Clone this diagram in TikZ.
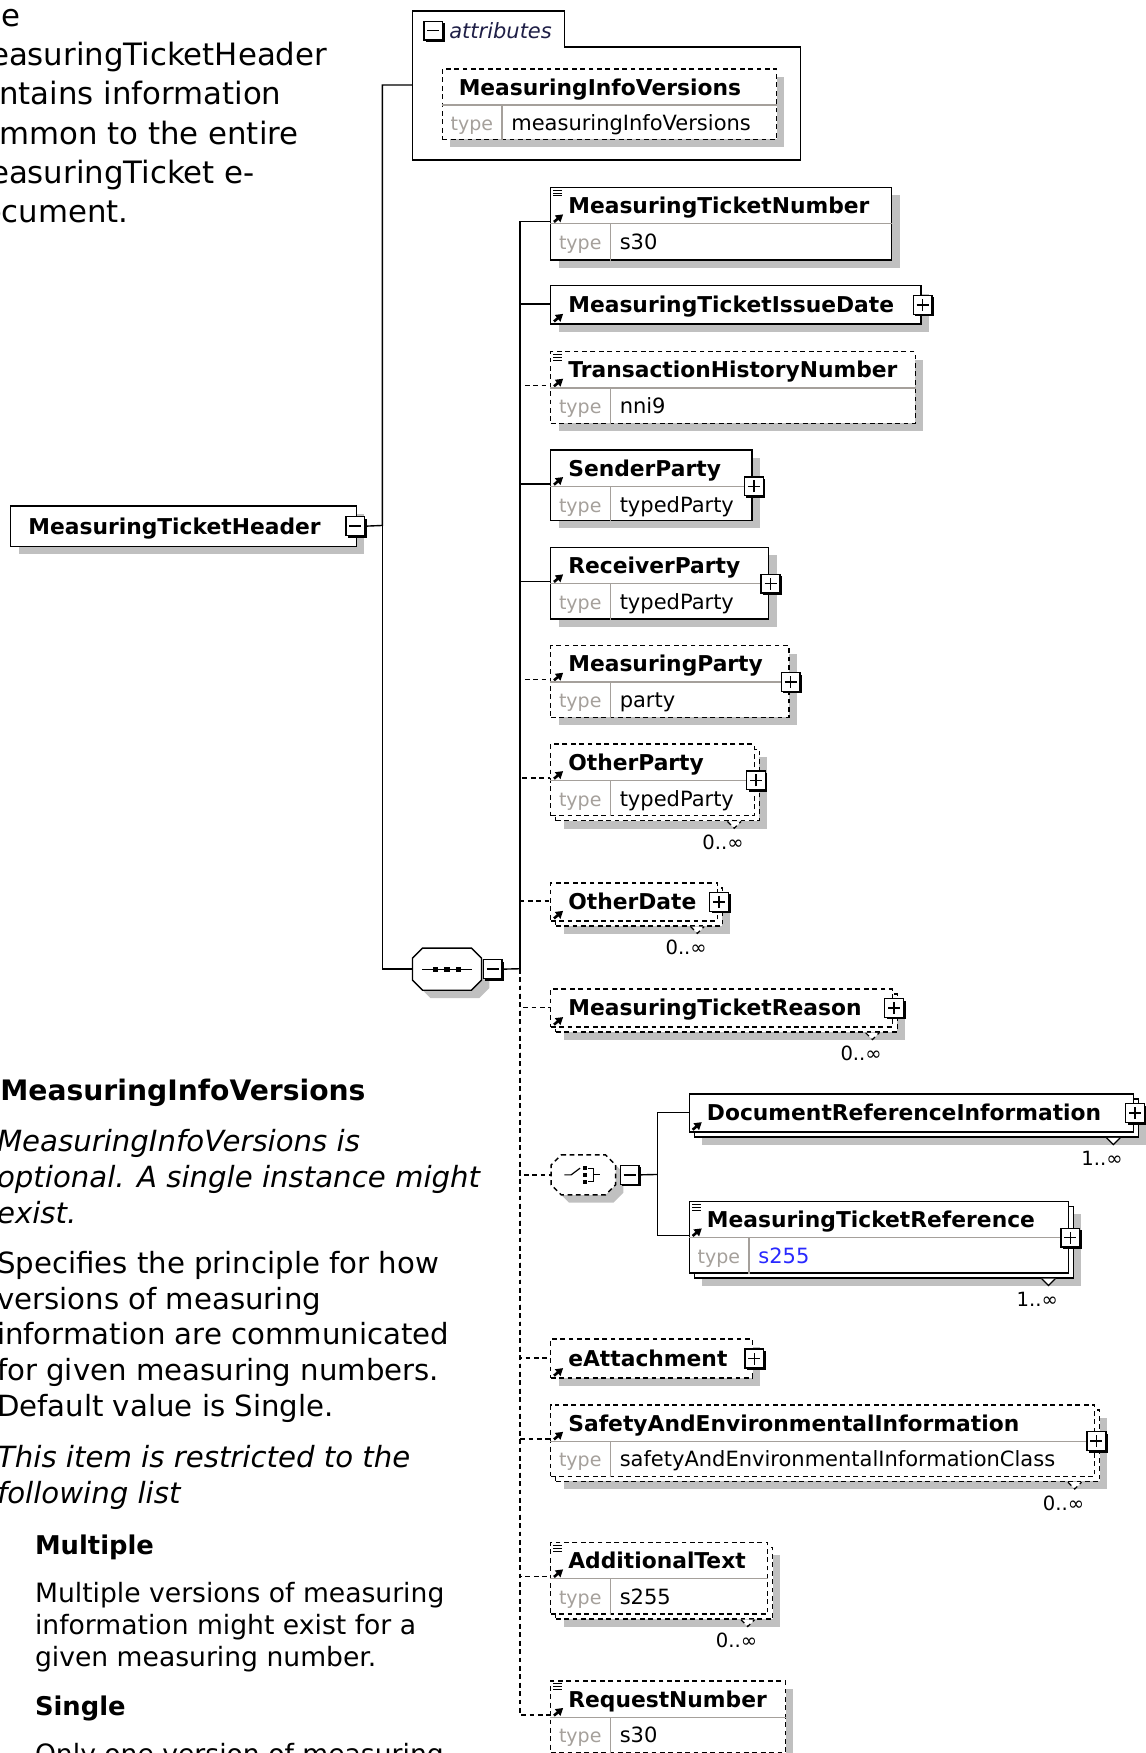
\documentclass[tikz,border=0pt]{standalone}
\usepackage{fontspec}
\setmainfont{DejaVu Sans}
\usetikzlibrary{arrows.meta, positioning, shadows}

\definecolor{typegray}{RGB}{165,160,155}
\definecolor{shadegray}{RGB}{192,192,192}
\definecolor{refblue}{RGB}{40,40,255}
\definecolor{attrnavy}{RGB}{30,30,70}

% one pixel of the drawing
\newcommand{\dpx}{0.559pt}
\newcommand{\namefont}{\fontsize{10.9}{13}\selectfont}

\tikzset{
  box/.style={draw, fill=white, line width=0.7pt, anchor=north west, inner sep=0pt},
  optional/.style={dash pattern=on 2.4pt off 1.8pt},
  shadowed/.style={drop shadow={shadow xshift=3.9pt, shadow yshift=-3.9pt, fill=shadegray, opacity=1}},
  ename/.style={anchor=base west, inner sep=0pt, font=\namefont\bfseries},
  tname/.style={anchor=base west, inner sep=0pt, font=\fontsize{10.5}{12}\selectfont},
  tkey/.style={anchor=base, inner sep=0pt, font=\fontsize{9.5}{11}\selectfont, text=typegray},
  multi/.style={inner sep=0pt, font=\fontsize{9.8}{11}\selectfont},
  link/.style={line width=0.7pt},
  rule/.style={draw=typegray, line width=0.6pt},
  pm/.style={draw, fill=white, line width=0.7pt, minimum size=9.4pt, inner sep=0pt,
    drop shadow={shadow xshift=1pt, shadow yshift=-1pt, fill=black, opacity=1}},
  minusbox/.style={pm, path picture={\draw[line width=0.7pt]
    ([xshift=-3pt]path picture bounding box.center) -- ([xshift=3pt]path picture bounding box.center);}},
  plusbox/.style={pm, path picture={\draw[line width=0.7pt]
    ([xshift=-3pt]path picture bounding box.center) -- ([xshift=3pt]path picture bounding box.center)
    ([yshift=-3pt]path picture bounding box.center) -- ([yshift=3pt]path picture bounding box.center);}},
  attrlabel/.style={inner sep=0pt, text=attrnavy, font=\fontsize{10.5}{12}\selectfont\itshape},
  % multi-line texts are placed by the baseline of their last line
  desctop/.style={anchor=base west, align=left, inner sep=0pt, font=\fontsize{15.4}{19.6}\selectfont},
  descbody/.style={anchor=base west, align=left, inner sep=0pt, font=\fontsize{14.6}{17.9}\selectfont},
  descital/.style={descbody, font=\fontsize{14.6}{17.9}\selectfont\itshape},
  deschead/.style={anchor=base west, inner sep=0pt, font=\fontsize{14.1}{17}\selectfont\bfseries},
  listhead/.style={deschead, font=\fontsize{12.9}{16}\selectfont\bfseries},
  listbody/.style={anchor=base west, align=left, inner sep=0pt, font=\fontsize{13.3}{16.2}\selectfont}
}

% element box: id, style, x, y, width, height, head height, name
\newcommand{\elem}[8]{%
  \node[box, #2, minimum width=#5*\dpx, minimum height=#6*\dpx] (#1) at (#3,#4) {};
  \node[ename] (#1-n) at ([xshift=16*\dpx, yshift=-(#7/2+7.5)*\dpx]#1.north west) {#8};
  \draw[line width=1.3pt, -{Triangle[length=3.6pt, width=4.2pt]}]
    ([xshift=3.5*\dpx, yshift=-(#7-1.5)*\dpx]#1.north west) -- ++(4.6pt,3.8pt);
  \coordinate (#1-in) at ([yshift=-#7/2*\dpx]#1.north west);
}
% type row of a box: id, type
\newcommand{\typ}[2]{%
  \draw[rule] ([yshift=-33*\dpx]#1.north west) -- ([yshift=-33*\dpx]#1.north east);
  \draw[rule] ([xshift=54*\dpx, yshift=-33*\dpx]#1.north west) -- ([xshift=54*\dpx]#1.south west);
  \node[tkey] (#1-k) at ([xshift=27*\dpx, yshift=-56*\dpx]#1.north west) {type};
  \node[tname] (#1-v) at ([xshift=62*\dpx, yshift=-56*\dpx]#1.north west) {#2};
  \coordinate (#1-in) at ([yshift=-31*\dpx]#1.north west);
}
% simple content mark
\newcommand{\simple}[1]{%
  \foreach \k in {1,2,3}
    \draw[line width=0.5pt] ([xshift=3*\dpx, yshift=-(0.5+2.6*\k)*\dpx]#1.north west) -- ++(4.3pt,0);
}
% box behind a repeated element: id, style, x, y, width, height
\newcommand{\stack}[6]{%
  \node[box, #2, shadowed, minimum width=#5*\dpx, minimum height=#6*\dpx] (#1-b) at (#3+4.5,#4+4.5) {};
}
% occurrence mark: id, style, text
\newcommand{\mult}[3]{%
  \draw[line width=0.6pt, fill=white, #2] ([xshift=-24.5*\dpx, yshift=-4.5*\dpx]#1.south east)
    -- ++(3.4pt,-3.4pt) -- ++(3.4pt,3.4pt);
  \node[multi] (#1-m) at ([xshift=-28.5*\dpx, yshift=-23*\dpx]#1.south east) {#3};
}
% compositor outline: id, style
\newcommand{\octa}[2]{%
  \draw[link, fill=white, shadowed, #2] ([xshift=9*\dpx]#1.north west) -- ([xshift=-9*\dpx]#1.north east)
    -- ([yshift=-9*\dpx]#1.north east) -- ([yshift=9*\dpx]#1.south east)
    -- ([xshift=-9*\dpx]#1.south east) -- ([xshift=9*\dpx]#1.south west)
    -- ([yshift=9*\dpx]#1.south west) -- ([yshift=-9*\dpx]#1.north west) -- cycle;
}

\begin{document}
\begin{tikzpicture}[x=0.559pt, y=-0.559pt]
\useasboundingbox (0,0) rectangle (1025,1568);

% documentation
\node[desctop] (intro) at (-33,199) {The\\MeasuringTicketHeader\\contains information\\common to the entire\\MeasuringTicket e-\\document.};
\node[deschead] (miv-h) at (0,984) {MeasuringInfoVersions};
\node[descital] (miv-o) at (-3,1094) {MeasuringInfoVersions is\\optional. A single instance might\\exist.};
\node[descbody] (miv-d) at (-3,1267) {Specifies the principle for how\\versions of measuring\\information are communicated\\for given measuring numbers.\\Default value is Single.};
\node[descital] (miv-r) at (-3,1345) {This item is restricted to the\\following list};
\node[listhead] (mul-h) at (31,1390) {Multiple};
\node[listbody] (mul-d) at (31,1491) {Multiple versions of measuring\\information might exist for a\\given measuring number.};
\node[listhead] (sin-h) at (31,1534) {Single};
\node[listbody] (sin-d) at (31,1577) {Only one version of measuring};

% attributes
\draw[link] (369,10) -- (505,10) -- (505,42) -- (716,42) -- (716,143) -- (369,143) -- cycle;
\coordinate (attr-in) at (369,76);
\node[minusbox] (attr-m) at (387.5,27.5) {};
\node[attrlabel, right=5*\dpx of attr-m] (attr-l) {attributes};
\node[box, optional, shadowed, minimum width=299*\dpx, minimum height=63*\dpx] (miv) at (395,61) {};
\node[ename] (miv-n) at ([xshift=15*\dpx, yshift=-24*\dpx]miv.north west) {MeasuringInfoVersions};
\typ{miv}{measuringInfoVersions}

% root
\node[box, shadowed, minimum width=309*\dpx, minimum height=36*\dpx] (mth) at (9,452) {};
\node[ename] (mth-n) at ([xshift=16*\dpx, yshift=-26*\dpx]mth.north west) {MeasuringTicketHeader};
\node[minusbox] (mth-m) at ([xshift=-1.5*\dpx]mth.east) {};
\coordinate (hbus) at (342,470);

% sequence
\node[inner sep=0pt, minimum width=61*\dpx, minimum height=37*\dpx, anchor=north west] (seq) at (369,848) {};
\octa{seq}{}
\begin{scope}[shift={(seq.center)}]
  \draw[line width=0.6pt] (-22,0) -- (22,0);
  \foreach \dx in {-10,0,10}
    \fill (\dx-2.3,-2.3) rectangle (\dx+2.3,2.3);
\end{scope}
\node[minusbox] (seq-m) at ([xshift=10*\dpx]seq.east) {};
\coordinate (sbus) at (465,866.5);

\draw[link] (mth-m.east) -- (hbus) |- (attr-in);
\draw[link] (hbus) |- (seq.west);
\draw[link] (seq-m.east) -- (sbus);

% children
\elem{mtn}{shadowed}{492}{167}{305}{65}{33}{MeasuringTicketNumber}
\typ{mtn}{s30}
\simple{mtn}

\elem{mtid}{shadowed}{492}{255}{331}{34}{34}{MeasuringTicketIssueDate}
\node[plusbox] (mtid-p) at ([xshift=1*\dpx]mtid.east) {};

\elem{thn}{optional, shadowed}{492}{314}{326}{64}{33}{TransactionHistoryNumber}
\typ{thn}{nni9}
\simple{thn}

\elem{sp}{shadowed}{492}{402}{180}{63}{33}{SenderParty}
\typ{sp}{typedParty}
\node[plusbox] (sp-p) at ([xshift=1*\dpx, yshift=-33*\dpx]sp.north east) {};

\elem{rp}{shadowed}{492}{489}{195}{64}{33}{ReceiverParty}
\typ{rp}{typedParty}
\node[plusbox] (rp-p) at ([xshift=1*\dpx, yshift=-33*\dpx]rp.north east) {};

\elem{mp}{optional, shadowed}{492}{577}{213}{64}{33}{MeasuringParty}
\typ{mp}{party}
\node[plusbox] (mp-p) at ([xshift=1*\dpx, yshift=-33*\dpx]mp.north east) {};

\stack{op}{optional}{492}{665}{182}{64}
\elem{op}{optional}{492}{665}{182}{64}{33}{OtherParty}
\typ{op}{typedParty}
\node[plusbox] (op-p) at ([xshift=1*\dpx, yshift=-33*\dpx]op.north east) {};
\mult{op}{optional}{0..∞}

\stack{od}{optional}{492}{789}{149}{34}
\elem{od}{optional}{492}{789}{149}{34}{34}{OtherDate}
\node[plusbox] (od-p) at ([xshift=1*\dpx]od.east) {};
\mult{od}{optional}{0..∞}

\stack{mtrn}{optional}{492}{884}{305.5}{34}
\elem{mtrn}{optional}{492}{884}{305.5}{34}{34}{MeasuringTicketReason}
\node[plusbox] (mtrn-p) at ([xshift=1*\dpx]mtrn.east) {};
\mult{mtrn}{optional}{0..∞}

% choice
\node[inner sep=0pt, minimum width=57*\dpx, minimum height=35*\dpx, anchor=north west] (cho) at (493,1033) {};
\octa{cho}{optional}
\begin{scope}[shift={(cho.center)}, line width=0.6pt]
  \draw (-17,0) -- (-11,0) -- (-3,-6);
  \foreach \dx in {-6,0,6}
    \fill (0,\dx-1.8) rectangle (3.6,\dx+1.8);
  \draw (4,-6) -- (9,-6) -- (9,6) -- (4,6) (9,0) -- (15,0);
\end{scope}
\node[minusbox] (cho-m) at ([xshift=12.5*\dpx]cho.east) {};
\coordinate (cbus) at (588,1050.5);
\draw[link] (cho-m.east) -- (cbus);

\stack{dri}{}{616}{978}{397}{34}
\elem{dri}{}{616}{978}{397}{34}{34}{DocumentReferenceInformation}
\node[plusbox] (dri-p) at ([xshift=1*\dpx]dri.east) {};
\mult{dri}{}{1..∞}

\stack{mtr}{}{616}{1074}{339}{64}
\elem{mtr}{}{616}{1074}{339}{64}{33}{MeasuringTicketReference}
\typ{mtr}{\textcolor{refblue}{s255}}
\simple{mtr}
\node[plusbox] (mtr-p) at ([xshift=1*\dpx, yshift=-33*\dpx]mtr.north east) {};
\mult{mtr}{}{1..∞}

\elem{eat}{optional, shadowed}{492}{1197}{180.5}{35}{35}{eAttachment}
\node[plusbox] (eat-p) at ([xshift=1*\dpx]eat.east) {};

\stack{saei}{optional}{492}{1256}{486.5}{64}
\elem{saei}{optional}{492}{1256}{486.5}{64}{33}{SafetyAndEnvironmentalInformation}
\typ{saei}{safetyAndEnvironmentalInformationClass}
\node[plusbox] (saei-p) at ([xshift=1*\dpx, yshift=-33*\dpx]saei.north east) {};
\mult{saei}{optional}{0..∞}

\stack{adt}{optional}{492}{1379}{194}{64}
\elem{adt}{optional}{492}{1379}{194}{64}{33}{AdditionalText}
\typ{adt}{s255}
\simple{adt}
\mult{adt}{optional}{0..∞}

\elem{rqn}{optional, shadowed}{492}{1503}{210}{64}{33}{RequestNumber}
\typ{rqn}{s30}
\simple{rqn}

% connectors
\foreach \kid in {mtn, mtid, sp, rp}
  \draw[link] (sbus) |- (\kid-in);
\foreach \kid in {thn, mp, op, od, mtrn, eat, saei, adt, rqn}
  \draw[link, optional] (sbus) |- (\kid-in);
\draw[link, optional] (sbus) |- (cho.west);
\foreach \kid in {dri, mtr}
  \draw[link] (cbus) |- (\kid-in);
\end{tikzpicture}
\end{document}
